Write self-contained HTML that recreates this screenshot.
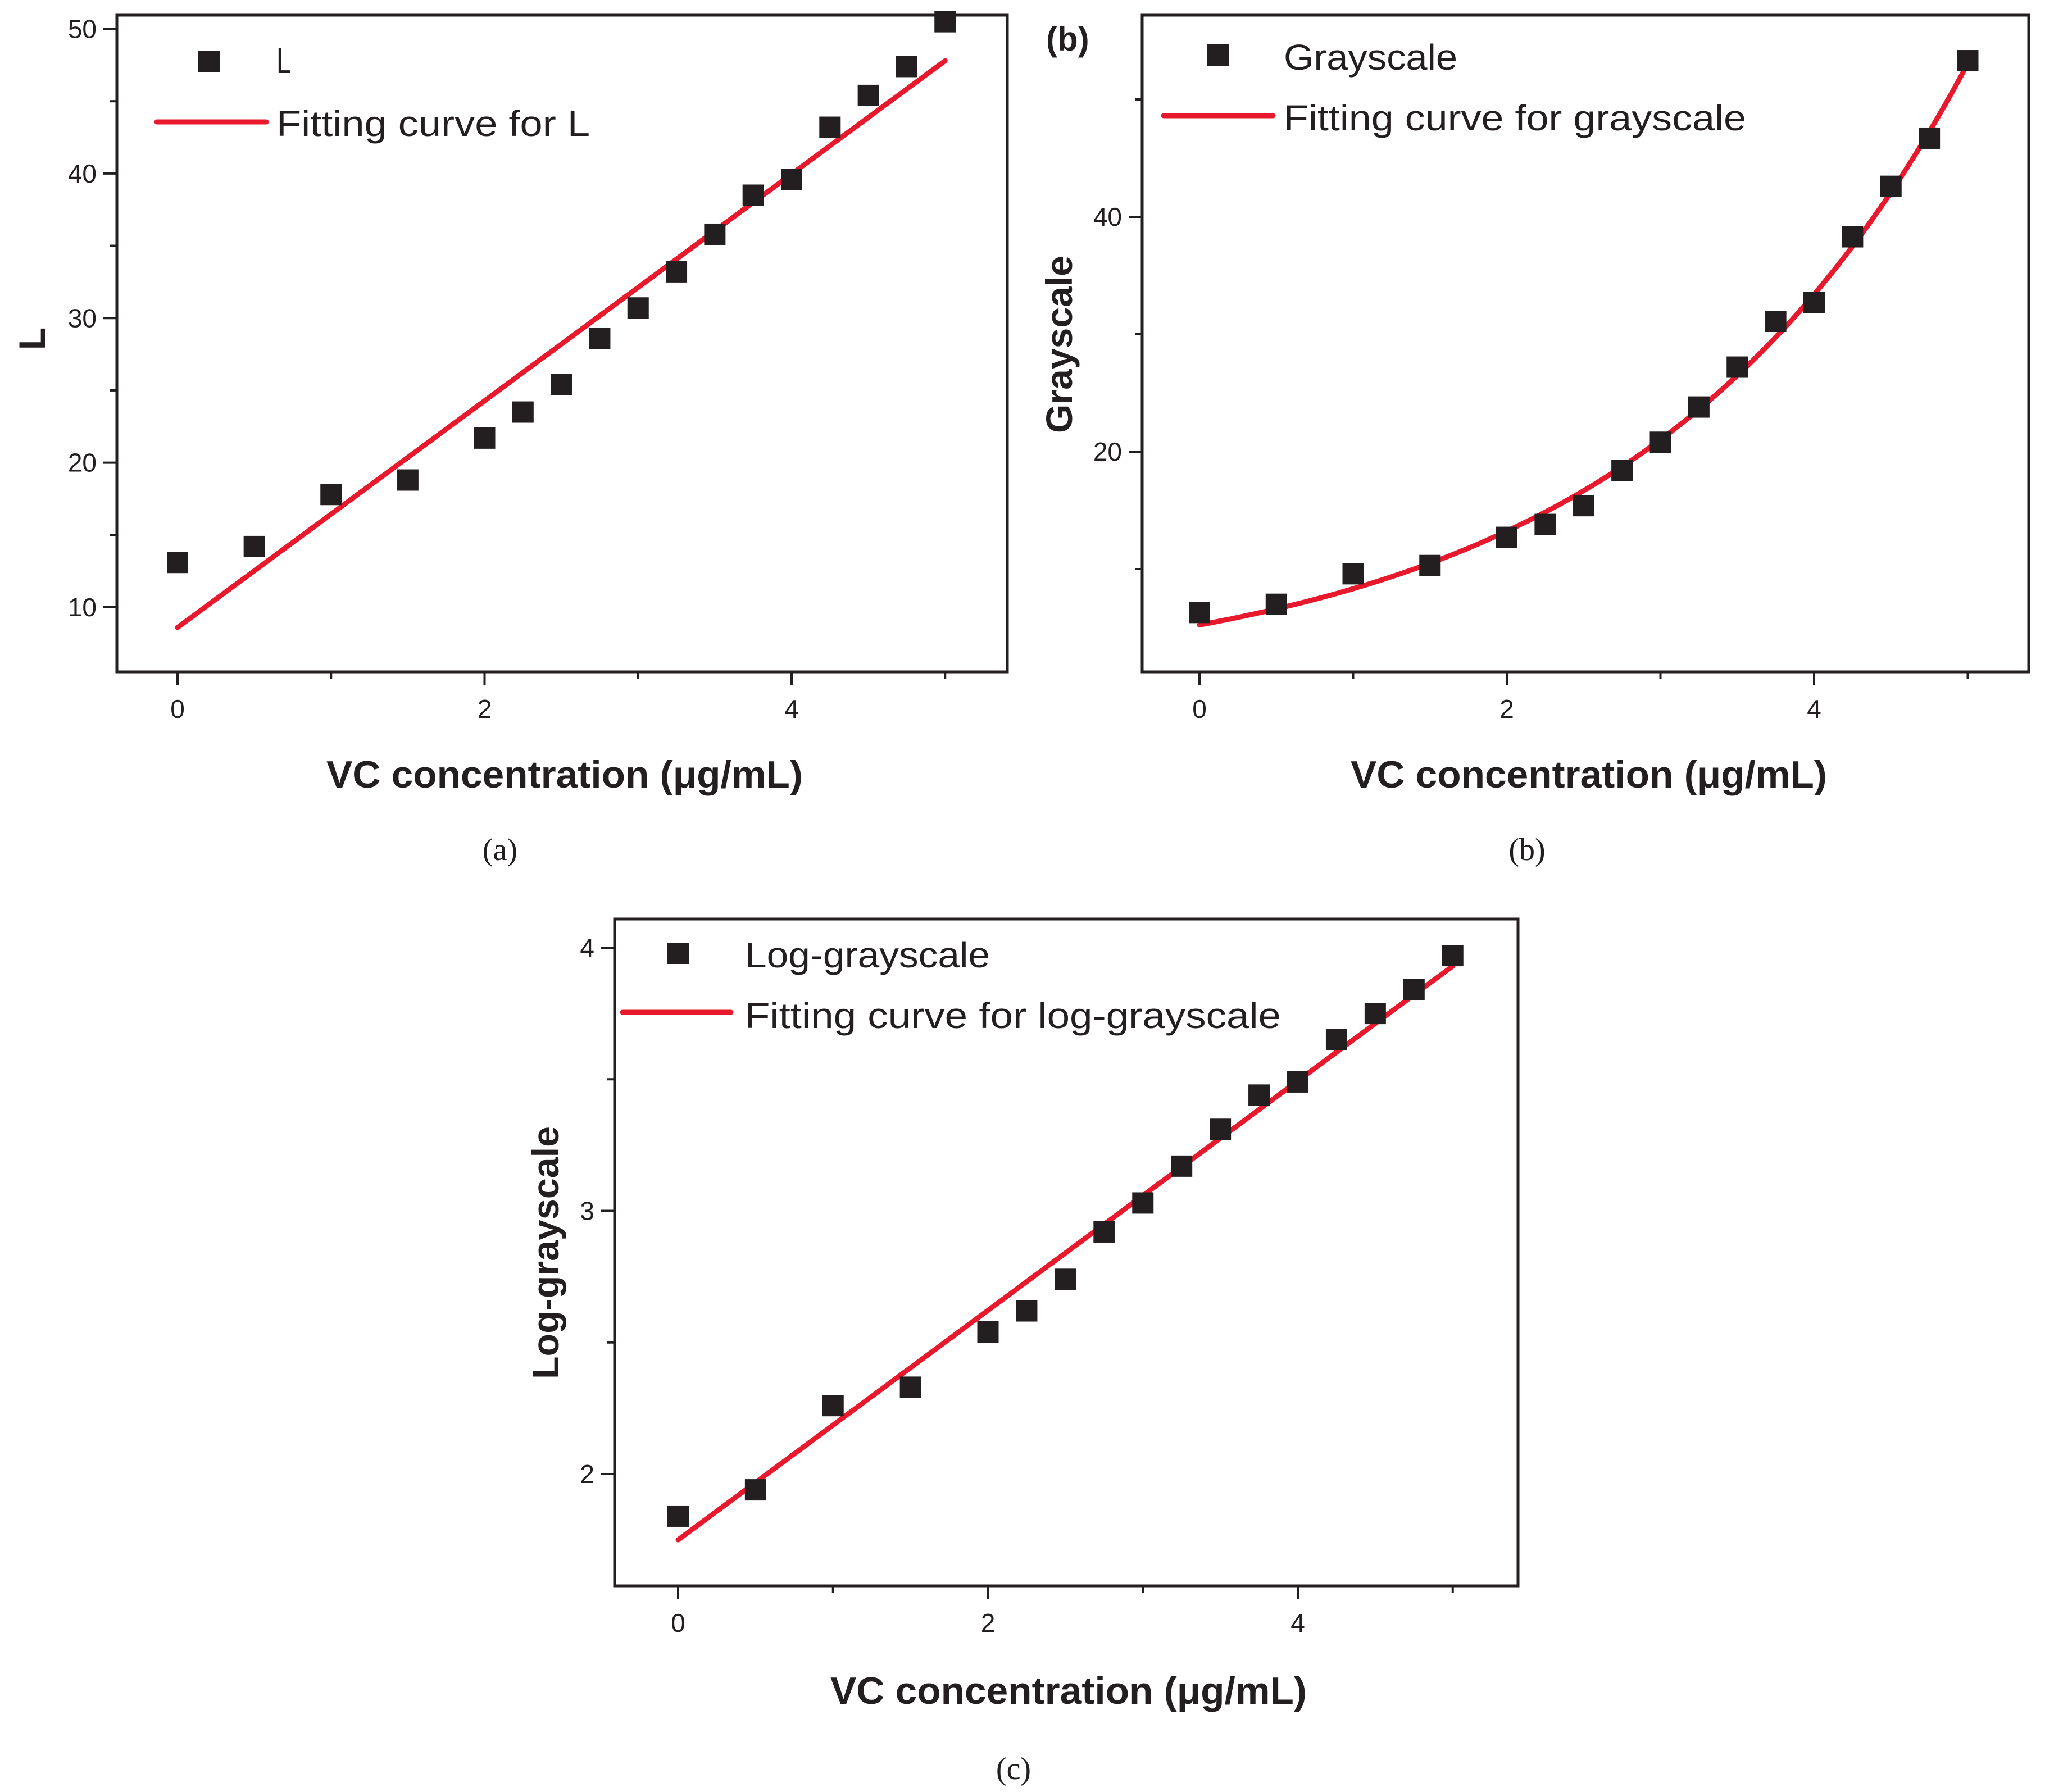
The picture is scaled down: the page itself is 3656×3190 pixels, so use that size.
<!DOCTYPE html>
<html><head><meta charset="utf-8"><style>
html,body{margin:0;padding:0;background:#fff;}
svg{display:block;}
text{fill:#231f20;}
</style></head><body>
<svg id="fig" width="3656" height="3190" viewBox="0 0 3656 3190" xmlns="http://www.w3.org/2000/svg"></svg>
<script>
// shared x categories
const concentrations = [0,0.5,1,1.5,2,2.25,2.5,2.75,3,3.25,3.5,3.75,4,4.25,4.5,4.75,5];
// panel a: L
const valuesL = [13.1,14.2,17.8,18.8,21.7,23.5,25.4,28.6,30.7,33.2,35.8,38.5,39.6,43.2,45.4,47.4,50.5];
const fitL = [8.6,47.8]; // linear fit at x=0 and x=5
const ticksL = [10,20,30,40,50];
// panel b: grayscale
const valuesG = [6.3,7.0,9.6,10.3,12.7,13.8,15.4,18.4,20.8,23.8,27.2,31.1,32.7,38.3,42.6,46.7,53.3];
const fitGa = 5.24, fitGb = 0.463; // exponential fit a*exp(b*x)
const ticksG = [20,40];
// panel c: log-grayscale
const valuesLG = [1.84,1.94,2.26,2.33,2.54,2.62,2.74,2.92,3.03,3.17,3.31,3.44,3.49,3.65,3.75,3.84,3.97];
const fitLG = [1.75,3.93];
const ticksLG = [2,3,4];
const xTicks = [0,1,2,3,4,5];
const xLabels = [0,2,4];

const NS='http://www.w3.org/2000/svg';
const svg=document.getElementById('fig');
function mk(tag,attrs,parent,txt){const e=document.createElementNS(NS,tag);for(const k in attrs)e.setAttribute(k,attrs[k]);if(txt!==undefined)e.textContent=txt;(parent||svg).appendChild(e);return e;}
const RED='#e8192c', INK='#231f20';
const TF='"Liberation Sans Narrow","Liberation Sans",sans-serif';
const MS=38;

function panel(o){
  const g=mk('g',{});
  
  
  const X=v=>o.x0px+(v-0)*(o.x4px-o.x0px)/4;
  const Y=v=>o.yAp+(v-o.yA)*(o.yBp-o.yAp)/(o.yB-o.yA);
  let d='';
  for(let i=0;i<=100;i++){const xv=5*i/100;const yv=o.fit(xv);d+=(i?'L':'M')+X(xv).toFixed(1)+' '+Y(yv).toFixed(1);}
  const fl=mk('path',{d:d,fill:'none',stroke:RED,'stroke-width':9,'stroke-linecap':'round'},g);
  
  
  o.vals.forEach((v,i)=>{
    const r=mk('rect',{x:X(concentrations[i])-MS/2,y:Y(v)-MS/2,width:MS,height:MS,fill:INK},g);
    
    
  });
  const fr=mk('rect',{x:o.L,y:o.T,width:o.R-o.L,height:o.B-o.T,fill:'none',stroke:INK,'stroke-width':5},g);
  
  
  xTicks.forEach(t=>{
    const major=xLabels.indexOf(t)>=0;
    mk('line',{x1:X(t),x2:X(t),y1:o.B,y2:o.B+(major?24:13),stroke:INK,'stroke-width':4},g);
  });
  xLabels.forEach(t=>{
    const tl=mk('text',{x:X(t),y:o.B+82,'text-anchor':'middle','font-family':TF,'font-size':46},g,String(t));
    
    
  });
  o.ticks.forEach(t=>{
    mk('line',{x1:o.L,x2:o.L-24,y1:Y(t),y2:Y(t),stroke:INK,'stroke-width':4},g);
    const tl=mk('text',{x:o.L-36,y:Y(t)+16,'text-anchor':'end','font-family':TF,'font-size':46},g,String(t));
    
    
  });
  o.minor.forEach(t=>{mk('line',{x1:o.L,x2:o.L-13,y1:Y(t),y2:Y(t),stroke:INK,'stroke-width':4},g);});
  const ls=mk('rect',{x:o.lg.sx-MS/2,y:o.lg.sy-MS/2,width:MS,height:MS,fill:INK},g);
  
  
  const lt1=mk('text',{x:o.lg.tx,y:o.lg.b1,'font-family':TF,'font-size':64,textLength:o.lg.w1,lengthAdjust:'spacingAndGlyphs'},g,o.lg.t1);
  
  
  const ll=mk('line',{x1:o.lg.l1,x2:o.lg.l2,y1:o.lg.ly,y2:o.lg.ly,stroke:RED,'stroke-width':9,'stroke-linecap':'round'},g);
  
  
  const lt2=mk('text',{x:o.lg.tx,y:o.lg.b2,'font-family':TF,'font-size':64,textLength:o.lg.w2,lengthAdjust:'spacingAndGlyphs'},g,o.lg.t2);
  
  
  const xt=mk('text',{x:o.xt[0],y:o.xt[1],'text-anchor':'middle','font-family':TF,'font-weight':'bold','font-size':68,textLength:848,lengthAdjust:'spacingAndGlyphs'},g,'VC concentration (\u03bcg/mL)');
  
  
  const ytAttrs={x:0,y:0,'text-anchor':'middle','font-family':TF,'font-weight':'bold','font-size':66,transform:'translate('+o.yt[0]+','+o.yt[1]+') rotate(-90)'};
  if(o.yt[2]){ytAttrs.textLength=o.yt[2];ytAttrs.lengthAdjust='spacingAndGlyphs';}
  const yt=mk('text',ytAttrs,g,o.ytitle);
  
  
  const cap=mk('text',{x:o.cap[0],y:o.cap[1],'text-anchor':'middle','font-family':'"Liberation Serif",serif','font-size':56},g,o.capt);
  
  
}

panel({name:'panel-a-L',L:208,R:1793,T:27,B:1196,x0px:316,x4px:1409,yA:10,yAp:1081,yB:50,yBp:51.5,
  vals:valuesL,fit:x=>fitL[0]+(fitL[1]-fitL[0])*x/5,ticks:ticksL,minor:[15,25,35,45],
  lg:{sx:372,sy:110,tx:492,b1:130,w1:26,t1:'L',l1:279,l2:474,ly:217,b2:242,w2:558,t2:'Fitting curve for L'},
  xt:[1005,1402],yt:[80,603],ytitle:'L',cap:[890,1531],capt:'(a)'});

panel({name:'panel-b-grayscale',L:2033,R:3611,T:27,B:1196,x0px:2135,x4px:3229,yA:20,yAp:804,yB:40,yBp:386,
  vals:valuesG,fit:x=>fitGa*Math.exp(fitGb*x),ticks:ticksG,minor:[10,30,50],
  lg:{sx:2168,sy:98,tx:2285,b1:124,w1:309,t1:'Grayscale',l1:2071,l2:2266,ly:206,b2:232,w2:823,t2:'Fitting curve for grayscale'},
  xt:[2828,1402],yt:[1908,613,316],ytitle:'Grayscale',cap:[2718,1531],capt:'(b)'});

panel({name:'panel-c-log-grayscale',L:1094,R:2702,T:1636,B:2823,x0px:1207,x4px:2310,yA:2,yAp:2624,yB:4,yBp:1687,
  vals:valuesLG,fit:x=>fitLG[0]+(fitLG[1]-fitLG[0])*x/5,ticks:ticksLG,minor:[2.5,3.5],
  lg:{sx:1207,sy:1697,tx:1326,b1:1722,w1:436,t1:'Log-grayscale',l1:1108,l2:1301,ly:1802,b2:1830,w2:954,t2:'Fitting curve for log-grayscale'},
  xt:[1902,3033],yt:[994,2230,450],ytitle:'Log-grayscale',cap:[1804,3167],capt:'(c)'});

const bl=mk('text',{x:1862,y:90,'font-family':TF,'font-weight':'bold','font-size':60});
bl.textContent='(b)';


</script>
</body></html>
